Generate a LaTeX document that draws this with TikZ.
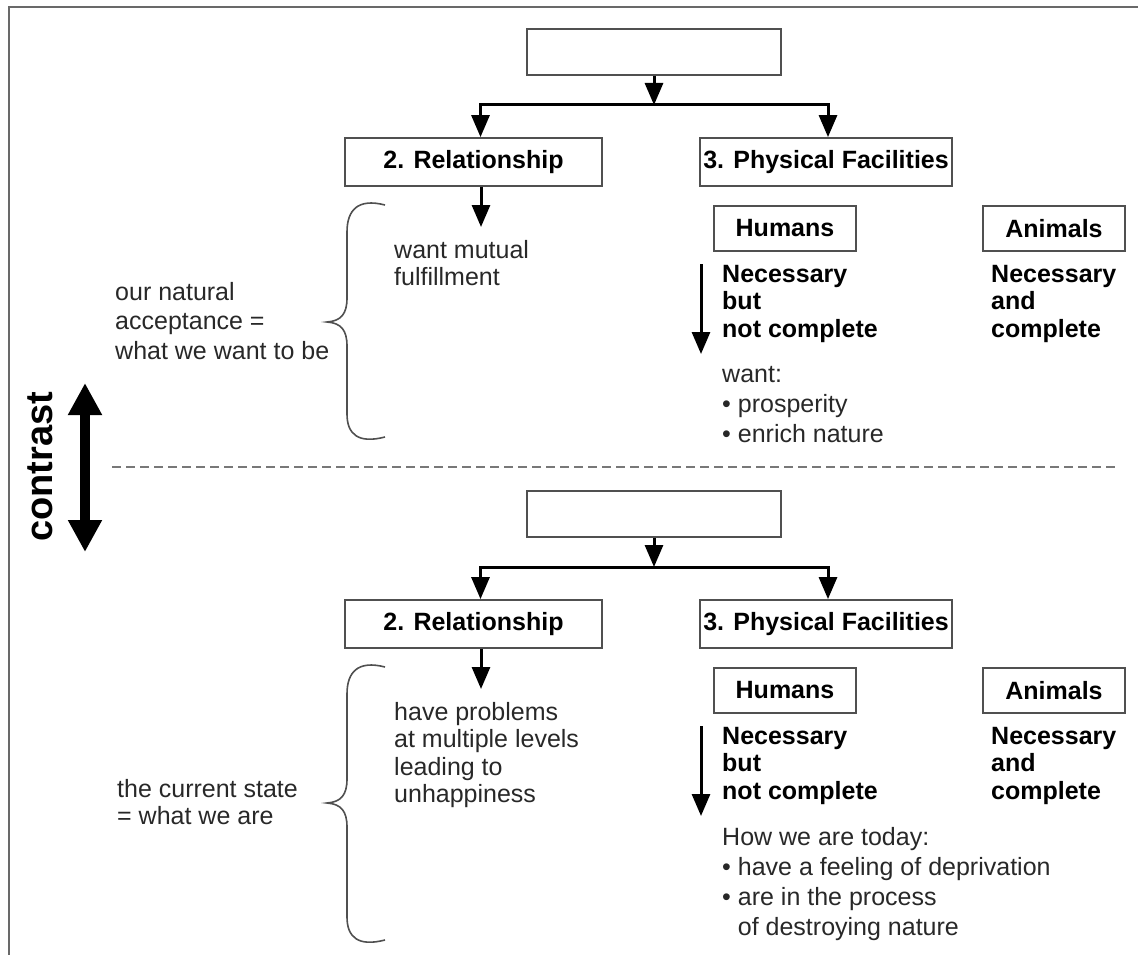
\documentclass[tikz,border=0pt]{standalone}
\usepackage{fontspec}
\setmainfont{Liberation Sans}
\usetikzlibrary{arrows.meta,positioning}
\definecolor{framegray}{RGB}{105,105,105}
\definecolor{boxgray}{RGB}{80,80,80}
\definecolor{inkgray}{RGB}{40,40,40}
\definecolor{dashgray}{RGB}{120,120,120}

\begin{document}
\begin{tikzpicture}[x=1pt,y=-1pt,
    box/.style={draw=boxgray, line width=1.8pt, minimum height=46pt, inner sep=0pt,
        font=\bfseries\fontsize{25}{27.5}\selectfont},
    normaltext/.style={anchor=north west, inner sep=0pt, align=left, text=inkgray,
        font=\fontsize{25}{27.5}\selectfont},
    boldtext/.style={normaltext, text=black, font=\bfseries\fontsize{25}{27.5}\selectfont},
    listtext/.style={normaltext, font=\fontsize{25}{30}\selectfont},
    treeline/.style={line width=3pt, -{Triangle[length=22pt,width=18pt]}},
    braceline/.style={draw=boxgray, line width=1.6pt},
    dashline/.style={draw=dashgray, line width=1.5pt, dash pattern=on 9pt off 5pt}]
    \useasboundingbox (0,0) rectangle (1138,955);
    % outer frame (cut at right and bottom)
    \draw[framegray, line width=2pt] (9,955) -- (9,7) -- (1138,7);

    % the same tree in both halves
    \foreach \s/\dy in {A/0,B/462} {
        \begin{scope}[shift={(0,\dy)}]
            \node[box, minimum width=254pt] (top\s) at (654,52) {};
            \node[box, minimum width=257pt, minimum height=48pt] (rel\s) at (473.5,162) {2. Relationship};
            \node[box, minimum width=252pt, minimum height=48pt] (phys\s) at (826,162) {3. Physical Facilities};
            \node[box, minimum width=142pt, minimum height=45pt] (hum\s) at (785,228.5) {Humans};
            \node[box, minimum width=142pt, minimum height=45pt] (ani\s) at (1054,228.5) {Animals};
            \coordinate (bar\s) at (654,105);
            \draw[treeline] (top\s.south) -- (bar\s);
            \draw[treeline] (bar\s) -| ([xshift=7pt]rel\s.north);
            \draw[treeline] (bar\s) -| ([xshift=2pt]phys\s.north);
            % relationship arrow
            \coordinate (relend\s) at (481,227);
            \draw[treeline] (rel\s.south -| relend\s) -- (relend\s);
            % humans arrow
            \coordinate (hup\s) at (701,264);
            \coordinate (hdn\s) at (701,354);
            \draw[treeline] (hup\s) -- (hdn\s);
            \node[boldtext] (nec\s) at (722,265) {Necessary\\but\\not complete};
            \node[boldtext] (anec\s) at (991,265) {Necessary\\and\\complete};
        \end{scope}
    }

    % upper half: what we want to be
    \node[normaltext] (wantA) at (394,240) {want mutual\\fulfillment};
    \node[normaltext, font=\fontsize{25}{29.5}\selectfont] (oursA) at (115,282) {our natural\\acceptance =\\what we want to be};
    \node[listtext] (wishA) at (722,366) {want:\\• prosperity\\• enrich nature};
    \draw[braceline] (385,205) .. controls (358,198) and (347,210) .. (347,232) -- (347,298)
        .. controls (347,314) and (341,321) .. (327,322)
        .. controls (341,323) and (347,330) .. (347,346) -- (347,414)
        .. controls (347,434) and (358,444) .. (385,437);

    % divider and contrast arrow
    \draw[dashline] (112,467) -- (1117,467);
    \coordinate (cup) at (85,383);
    \coordinate (cdn) at (85,552);
    \draw[line width=10pt, {Triangle[length=32pt,width=32pt]}-{Triangle[length=32pt,width=32pt]}] (cup) -- (cdn);
    \node[rotate=90, inner sep=0pt, font=\bfseries\fontsize{38}{40}\selectfont] (contrastlbl) at (40,467) {contrast};

    % lower half: what we are
    \node[normaltext] (haveB) at (394,702) {have problems\\at multiple levels\\leading to\\unhappiness};
    \node[normaltext] (stateB) at (117,779) {the current state\\= what we are};
    \node[listtext] (todayB) at (722,827) {How we are today:\\• have a feeling of deprivation\\• are in the process\\\phantom{• }of destroying nature};
    \draw[braceline] (385,667) .. controls (358,660) and (347,672) .. (347,694) -- (347,779)
        .. controls (347,795) and (341,802) .. (327,803)
        .. controls (341,804) and (347,811) .. (347,827) -- (347,917)
        .. controls (347,937) and (358,947) .. (385,940);
\end{tikzpicture}
\end{document}
